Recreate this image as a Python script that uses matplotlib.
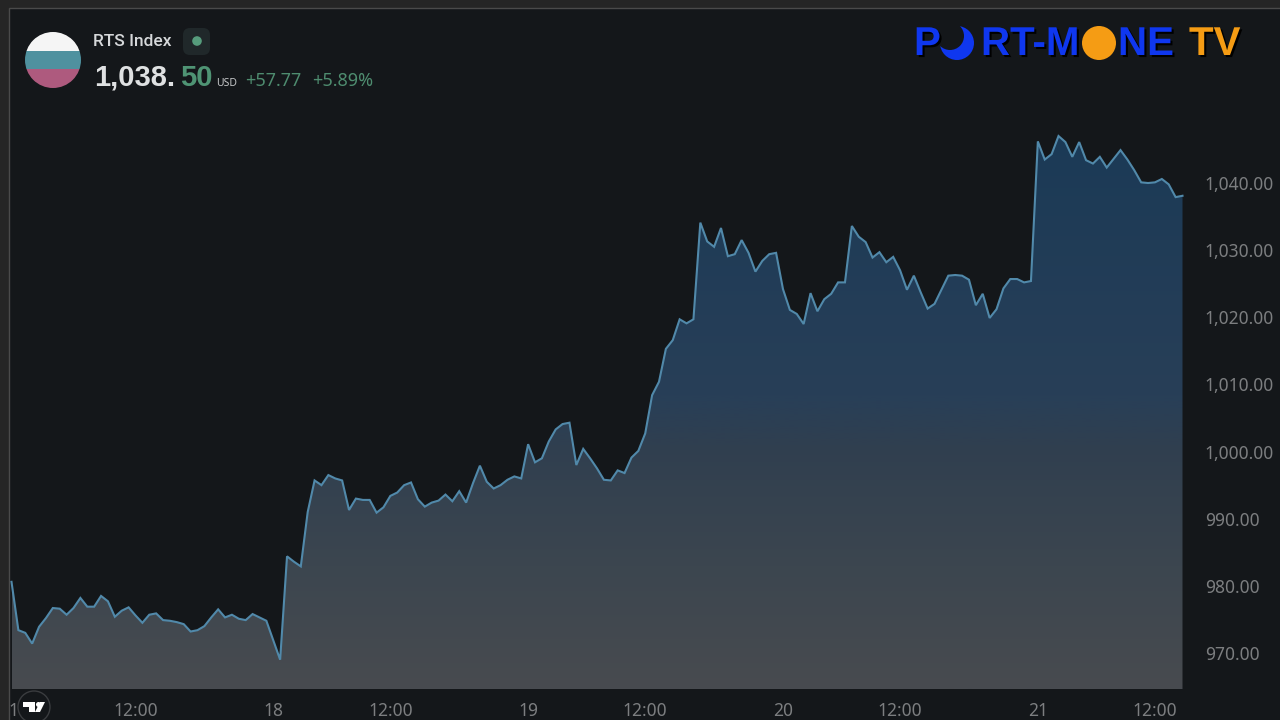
import numpy as np
from matplotlib import pyplot as plt
from matplotlib.colors import LinearSegmentedColormap
from matplotlib.patches import Circle, Rectangle, FancyBboxPatch, Polygon
from matplotlib.ticker import FixedLocator, FixedFormatter
import matplotlib.patheffects as pe

W, H = 1280, 720

prices = [
    980.6, 973.4, 973.0, 971.4, 973.9, 975.2, 976.7, 976.6, 975.7, 976.7,
    978.2, 976.9, 976.9, 978.5, 977.7, 975.4, 976.3, 976.8, 975.6, 974.5,
    975.7, 975.9, 974.9, 974.8, 974.6, 974.3, 973.2, 973.4, 974.0, 975.3,
    976.5, 975.3, 975.7, 975.1, 974.9, 975.8, 975.3, 974.8, 971.9, 969.0,
    984.4, 983.6, 982.9, 991.0, 995.7, 995.0, 996.5, 996.0, 995.7, 991.3,
    993.0, 992.8, 992.8, 990.9, 991.7, 993.4, 993.9, 995.0, 995.4, 992.9,
    991.8, 992.4, 992.7, 993.6, 992.6, 994.1, 992.4, 995.3, 997.9, 995.5,
    994.5, 995.0, 995.8, 996.3, 996.0, 1001.1, 998.4, 999.0, 1001.5, 1003.3,
    1004.1, 1004.3, 998.0, 1000.4, 999.0, 997.5, 995.8, 995.7, 997.2, 996.8,
    999.1, 1000.1, 1002.7, 1008.4, 1010.4, 1015.3, 1016.6, 1019.7, 1019.1, 1019.7,
    1034.1, 1031.3, 1030.5, 1033.3, 1029.1, 1029.4, 1031.5, 1029.6, 1026.8, 1028.4,
    1029.4, 1029.6, 1024.2, 1021.1, 1020.5, 1019.0, 1023.6, 1020.9, 1022.7, 1023.5,
    1025.2, 1025.2, 1033.6, 1032.0, 1031.2, 1028.9, 1029.7, 1028.2, 1029.0, 1027.0,
    1024.1, 1026.2, 1023.7, 1021.3, 1022.0, 1024.1, 1026.2, 1026.3, 1026.2, 1025.6,
    1021.8, 1023.5, 1019.9, 1021.2, 1024.3, 1025.7, 1025.7, 1025.2, 1025.4, 1046.2,
    1043.5, 1044.3, 1047.0, 1046.1, 1043.9, 1046.1, 1043.4, 1042.9, 1043.9, 1042.3,
    1043.6, 1044.9, 1043.5, 1041.9, 1040.1, 1040.0, 1040.1, 1040.6, 1039.8, 1037.9,
    1038.1,
]
y_ticks = [970, 980, 990, 1000, 1010, 1020, 1030, 1040]
x_ticks = [1, 18, 38, 55, 75, 92, 112, 129, 149, 166]
x_labels = ["17", "12:00", "18", "12:00", "19", "12:00", "20", "12:00", "21", "12:00"]

plt.rcParams['font.family'] = ['Noto Sans', 'DejaVu Sans']

BG = "#14171a"
fig = plt.figure(figsize=(W / 100, H / 100), dpi=100, facecolor="#252525")

# overlay in pixel coords for the frame, badges and logo
bg = fig.add_axes([0, 0, 1, 1], zorder=0)
bg.set_xlim(0, W)
bg.set_ylim(H, 0)
bg.axis("off")
bg.add_patch(Rectangle((9, 8), W, H, fc=BG, ec="#4a4a4a", lw=1))

# chart area: x 11.5..1182.5, y 9..689 in pixels
left, right, top, bottom = 11.5, 1182.5, 9, 689
ax = fig.add_axes([left / W, 1 - bottom / H, (right - left) / W, (bottom - top) / H], zorder=1)
ax.patch.set_alpha(0)
x = np.arange(len(prices))
per_unit = 6.714
y_lo = 970 - (bottom - 653) / per_unit
y_hi = 970 + (653 - top) / per_unit

cmap = LinearSegmentedColormap.from_list("area", [
    (0.0, "#1b3a56"), (0.47, "#283f58"), (0.56, "#303f50"),
    (0.78, "#3c464f"), (1.0, "#484b50")])
grad = np.linspace(0, 1, 256).reshape(-1, 1)
y_top = 970 + (653 - 135) / per_unit
img = ax.imshow(grad, cmap=cmap, aspect="auto", extent=[0, len(prices) - 1, y_lo, y_top], origin="upper", zorder=1)
area = ax.fill_between(x, prices, y_lo, color="none")
img.set_clip_path(area.get_paths()[0], transform=ax.transData)
ax.set_xlim(0, len(prices) - 1)
ax.set_ylim(y_lo, y_hi)
ax.plot(x, prices, color="#5189aa", lw=1.5, zorder=2, solid_joinstyle="miter", clip_on=False)

for s in ax.spines.values():
    s.set_visible(False)
ax.yaxis.tick_right()
ax.yaxis.set_major_locator(FixedLocator(y_ticks))
ax.yaxis.set_major_formatter(FixedFormatter([f"{v:,.2f}" for v in y_ticks]))
ax.xaxis.set_major_locator(FixedLocator(x_ticks))
ax.xaxis.set_major_formatter(FixedFormatter(x_labels))
ax.tick_params(axis="y", length=0, pad=16, labelsize=12.5, labelcolor="#7c7e80")
ax.tick_params(axis="x", length=0, pad=9, labelsize=12.5, labelcolor="#7c7e80")

# top layer
fg = fig.add_axes([0, 0, 1, 1], zorder=2)
fg.set_xlim(0, W)
fg.set_ylim(H, 0)
fg.axis("off")
fg.patch.set_alpha(0)

# flag
flag = Circle((53, 60), 28, transform=fg.transData, fc="none", ec="none")
fg.add_patch(flag)
for y0, y1, c in [(30, 51, "#f5f5f5"), (51, 69, "#4f919f"), (69, 90, "#ae5a7e")]:
    r = Rectangle((24, y0), 58, y1 - y0, fc=c, ec="none")
    fg.add_patch(r)
    r.set_clip_path(flag)

# header
fg.text(93, 41, "RTS Index", color="#d6d8da", fontsize=12.5, va="center", ha="left",
        family="Roboto", fontweight="medium")
fg.add_patch(FancyBboxPatch((183, 28), 27, 27, boxstyle="round,pad=0,rounding_size=7", fc="#20282a", ec="none"))
fg.add_patch(Circle((197, 41), 4.8, fc="#569c7c", ec="none"))
price = dict(fontsize=21, va="center", ha="left", family="Liberation Sans", fontweight="bold")
fg.text(94, 78, "1,038.", color="#dfe1e2", **price)
fg.text(180, 78, "50", color="#4f9474", **price)
fg.text(216, 84, "USD", color="#c4c6c8", fontsize=7.5, va="center", ha="left")
fg.text(245, 81, "+57.77", color="#4e8c6f", fontsize=13, va="center", ha="left")
fg.text(312, 81, "+5.89%", color="#4e8c6f", fontsize=13, va="center", ha="left")

# port-mone logo
BLUE, ORANGE = "#0f37ef", "#f59c14"
shadow = [pe.withSimplePatchShadow(offset=(1.5, -1.5), shadow_rgbFace="#000000", alpha=1.0)]
logo = dict(fontsize=29, fontweight="bold", family="Liberation Sans", va="center", ha="left")
fg.text(914, 44, "P", color=BLUE, path_effects=shadow, **logo)
fg.add_patch(Circle((957, 43), 17, fc=BLUE, ec="none"))
fg.add_patch(Circle((950, 36), 14, fc=BG, ec="none"))
fg.text(981, 44, "RT-M", color=BLUE, path_effects=shadow, **logo)
fg.add_patch(Circle((1099, 43), 17, fc=ORANGE, ec="none"))
fg.text(1118, 44, "NE", color=BLUE, path_effects=shadow, **logo)
fg.text(1189, 44, "TV", color=ORANGE, path_effects=shadow, **logo)

# tradingview badge
fg.add_patch(Circle((34, 707), 16, fc=BG, ec="#3a3c3f", lw=1))
fg.add_patch(Polygon([(23, 702), (35, 702), (35, 712), (29, 712), (29, 707), (23, 707)], fc="white", ec="none"))
fg.add_patch(Circle((38.5, 704.5), 2.5, fc="white", ec="none"))
fg.add_patch(Polygon([(40, 702), (45, 702), (40, 712), (35, 712)], fc="white", ec="none"))

fig.savefig("out.png", dpi=100, facecolor=fig.get_facecolor())
